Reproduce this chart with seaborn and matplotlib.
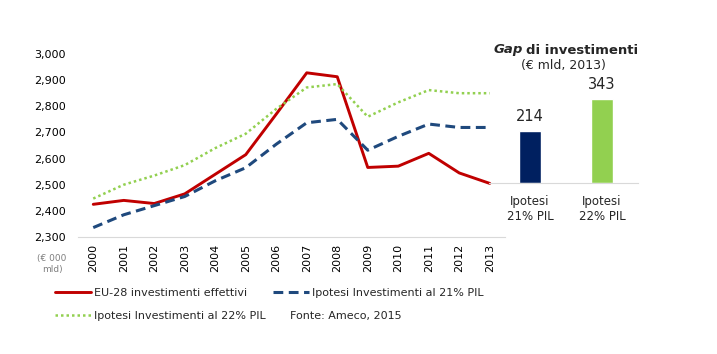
import pandas as pd
import matplotlib.pyplot as plt
import seaborn as sns
from matplotlib.ticker import FuncFormatter

anni = list(range(2000, 2014))
effettivi = [2425, 2440, 2428, 2465, 2540, 2615, 2770, 2928, 2913, 2566, 2571, 2620, 2545, 2505]
ipotesi_21 = [2336, 2385, 2420, 2455, 2515, 2565, 2655, 2737, 2750, 2632, 2685, 2732, 2719, 2719]
ipotesi_22 = [2447, 2500, 2535, 2575, 2640, 2695, 2790, 2872, 2885, 2760, 2815, 2862, 2850, 2850]

gap_categorie = ["Ipotesi\n21% PIL", "Ipotesi\n22% PIL"]
gap_valori = [214, 343]

serie_nomi = ["EU-28 investimenti effettivi",
              "Ipotesi Investimenti al 21% PIL",
              "Ipotesi Investimenti al 22% PIL"]

sns.set_style("white")
plt.rcParams['font.family'] = ['DejaVu Sans']

W, H = 717, 354
fig = plt.figure(figsize=(W / 100, H / 100), dpi=100)

# main line chart
ax = fig.add_axes([78 / W, 1 - 237 / H, (505 - 78) / W, (237 - 54) / H])
ax.patch.set_alpha(0)
sns.lineplot(x=anni, y=effettivi, ax=ax, color="#C00000", lw=2.1)
sns.lineplot(x=anni, y=ipotesi_21, ax=ax, color="#1F497D", lw=2.2, linestyle=(0, (3.2, 1.8)))
sns.lineplot(x=anni, y=ipotesi_22, ax=ax, color="#92D050", lw=1.8, linestyle=(0, (1, 1.2)))

ax.set_xlim(1999.5, 2013.5)
ax.set_ylim(2300, 3000)
ax.set_yticks(range(2300, 3001, 100))
ax.yaxis.set_major_formatter(FuncFormatter(lambda v, p: f"{int(v):,}"))
ax.set_xticks(anni)
ax.set_xticklabels([str(a) for a in anni], rotation=90)
ax.tick_params(axis='y', length=0, pad=9, labelsize=8, colors="#000000")
ax.tick_params(axis='x', length=0, pad=5, labelsize=8, colors="#000000")
for s in ["top", "right", "left"]:
    ax.spines[s].set_visible(False)
ax.spines["bottom"].set_color("#D9D9D9")
ax.spines["bottom"].set_linewidth(0.8)
ax.set_xlabel("")
ax.set_ylabel("")
fig.text(52 / W, 1 - 264 / H, "(€ 000\nmld)", ha="center", va="center",
         fontsize=6.5, color="#7F7F7F", linespacing=1.2)

# legend
linee = ax.get_lines()
leg = fig.legend([linee[0], linee[2], linee[1]],
                 [serie_nomi[0], serie_nomi[2], serie_nomi[1]],
                 ncol=2, loc="upper left", bbox_to_anchor=(55 / W, 1 - 288 / H),
                 frameon=False, fontsize=8, handlelength=3.2, handletextpad=0.3,
                 columnspacing=0.7, labelspacing=1.2, borderaxespad=0, borderpad=0)
fig.text(290 / W, 1 - 316 / H, "Fonte: Ameco, 2015", ha="left", va="center", fontsize=8)

# inset bar chart
bx = fig.add_axes([489 / W, 1 - 183 / H, (638 - 489) / W, (183 - 70) / H])
bx.patch.set_alpha(0)
sns.barplot(x=gap_categorie, y=gap_valori, hue=gap_categorie,
            palette=["#002060", "#92D050"], width=0.3, ax=bx, legend=False, saturation=1)
bx.set_xlim(-0.57, 1.5)
bx.set_ylim(0, 461)
bx.set_yticks([])
for s in ["top", "right", "left"]:
    bx.spines[s].set_visible(False)
bx.spines["bottom"].set_color("#D9D9D9")
bx.spines["bottom"].set_linewidth(0.8)
bx.tick_params(axis='x', length=0, pad=9, labelsize=8.5)
for t in bx.get_xticklabels():
    t.set_linespacing(1.2)
bx.set_xlabel("")
bx.set_ylabel("")
for i, v in enumerate(gap_valori):
    bx.text(i, v + 57, str(v), ha="center", va="center", fontsize=10.5)

fig.text(523 / W, 1 - 50 / H, "Gap", ha="right", va="center", fontsize=9.5,
         fontweight="bold", fontstyle="italic")
fig.text(526 / W, 1 - 50 / H, "di investimenti", ha="left", va="center", fontsize=9.5,
         fontweight="bold")
fig.text(563 / W, 1 - 66 / H, "(€ mld, 2013)", ha="center", va="center", fontsize=9)

fig.savefig("out.png", dpi=100)
